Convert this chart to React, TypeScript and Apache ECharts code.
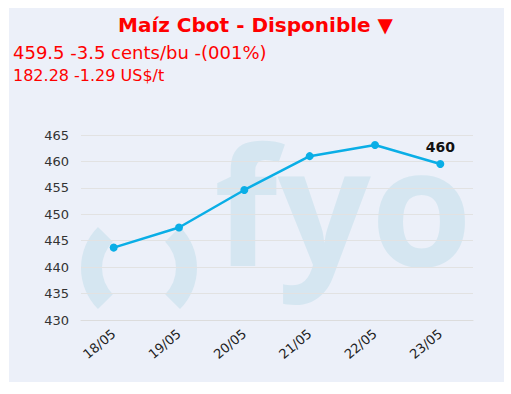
import React, { useEffect, useRef } from "react";
import * as echarts from "echarts";

const categories = ["18/05", "19/05", "20/05", "21/05", "22/05", "23/05"];
const values = [443.7, 447.5, 454.6, 461.0, 463.1, 459.5];
const yMin = 430;
const yMax = 465;
const yInterval = 5;
const titleText = "Maíz Cbot - Disponible ▼";
const subtitle1 = "459.5 -3.5 cents/bu -(001%)";
const subtitle2 = "182.28 -1.29 US$/t";
const watermark = "fyo";

export default function App() {
  const ref = useRef<HTMLDivElement>(null);
  useEffect(() => {
    if (!ref.current) return;
    const chart = echarts.init(ref.current, null, { renderer: "svg" });
    const font = "DejaVu Sans, Verdana, sans-serif";
    const wm = "#d5e6f1";
    const lastIdx = values.length - 1;
    chart.setOption({
      animation: false,
      backgroundColor: "#ffffff",
      textStyle: { fontFamily: font },
      graphic: [
        {
          type: "rect",
          z: -30,
          shape: { x: 9, y: 8, width: 495, height: 374 },
          style: { fill: "#ecf0f9" },
          silent: true,
        },
        {
          type: "sector",
          z: -20,
          shape: { cx: 139, cy: 268, r0: 37, r: 58, startAngle: (135 * Math.PI) / 180, endAngle: (225 * Math.PI) / 180 },
          style: { fill: wm },
          silent: true,
        },
        {
          type: "sector",
          z: -20,
          shape: { cx: 139, cy: 268, r0: 37, r: 58, startAngle: (-45 * Math.PI) / 180, endAngle: (45 * Math.PI) / 180 },
          style: { fill: wm },
          silent: true,
        },
        {
          type: "text",
          z: -20,
          x: 214,
          y: 284,
          silent: true,
          style: {
            text: watermark,
            font: "bold 164px 'Open Sans'",
            fill: wm,
            align: "left",
            verticalAlign: "bottom",
          },
        },
        {
          type: "text",
          left: "center",
          top: 15,
          style: { text: titleText, font: "bold 20px DejaVu Sans", fill: "#ff0000" },
        },
        {
          type: "text",
          left: 13,
          top: 43,
          style: { text: subtitle1, font: "18px DejaVu Sans", fill: "#ff0000" },
        },
        {
          type: "text",
          left: 13,
          top: 67,
          style: { text: subtitle2, font: "16px DejaVu Sans", fill: "#ff0000" },
        },
      ],
      grid: { left: 81, right: 38, top: 135, bottom: 74 },
      xAxis: {
        type: "category",
        data: categories,
        boundaryGap: true,
        axisLine: { lineStyle: { color: "#dcdcdc" } },
        axisTick: { lineStyle: { color: "#dcdcdc" }, length: 4 },
        axisLabel: { rotate: 40, color: "#222", fontSize: 13, fontFamily: font, margin: 12 },
      },
      yAxis: {
        type: "value",
        min: yMin,
        max: yMax,
        interval: yInterval,
        axisLine: { show: false },
        axisTick: { show: false },
        axisLabel: { color: "#333", fontSize: 13, fontFamily: font, margin: 12 },
        splitLine: { lineStyle: { color: "#e2e2e2" } },
      },
      series: [
        {
          type: "line",
          data: values.map((v, i) =>
            i === lastIdx
              ? {
                  value: v,
                  label: {
                    show: true,
                    position: "top",
                    distance: 6,
                    formatter: (p: any) => String(Math.round(p.value)),
                    fontWeight: "bold",
                    fontSize: 14,
                    color: "#111",
                    fontFamily: font,
                  },
                }
              : v
          ),
          symbol: "circle",
          symbolSize: 8,
          itemStyle: { color: "#0aaee6" },
          lineStyle: { color: "#0aaee6", width: 2.5 },
        },
      ],
    });
    return () => chart.dispose();
  }, []);
  return (
    <div
      ref={ref}
      style={{ position: "fixed", left: 0, top: 0, width: 511, height: 394 }}
    />
  );
}
